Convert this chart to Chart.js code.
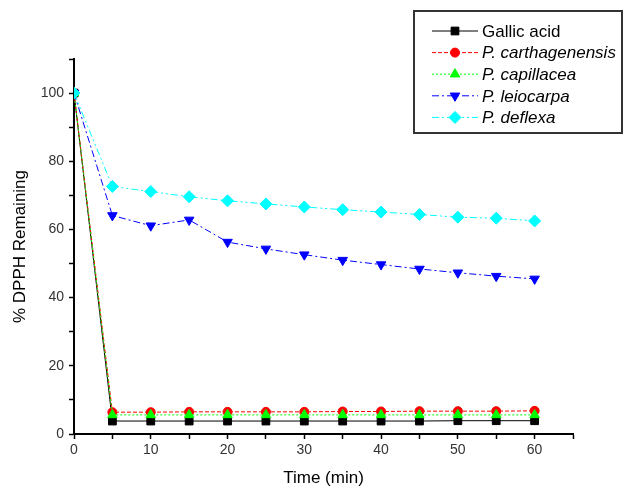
<!DOCTYPE html>
<html>
<head>
<meta charset="utf-8">
<script src="https://cdn.jsdelivr.net/npm/chart.js@4/dist/chart.umd.min.js"></script>
<style>
  html, body { margin: 0; padding: 0; background: #fff; }
  #wrap { width: 628px; height: 490px; position: relative; }
</style>
</head>
<body>
<div id="wrap"><canvas id="dpphChart"></canvas></div>
<script>
const times = [0, 5, 10, 15, 20, 25, 30, 35, 40, 45, 50, 55, 60]
const gallicAcid = [100, 3.8, 3.8, 3.8, 3.8, 3.8, 3.8, 3.8, 3.8, 3.8, 3.9, 3.9, 3.9]
const carthagenensis = [100, 6.4, 6.4, 6.5, 6.5, 6.5, 6.5, 6.6, 6.6, 6.7, 6.7, 6.7, 6.8]
const capillacea = [100, 5.6, 5.6, 5.6, 5.6, 5.6, 5.6, 5.6, 5.6, 5.6, 5.6, 5.6, 5.6]
const leiocarpa = [100, 64.1, 61.1, 62.8, 56.3, 54.3, 52.6, 51.0, 49.7, 48.4, 47.3, 46.3, 45.5]
const deflexa = [100, 72.6, 71.1, 69.6, 68.4, 67.5, 66.6, 65.8, 65.1, 64.4, 63.6, 63.3, 62.5]
const seriesLabels = ['Gallic acid', 'P. carthagenensis', 'P. capillacea', 'P. leiocarpa', 'P. deflexa']
const xTitle = 'Time (min)'
const yTitle = '% DPPH Remaining'

const FONT = 'Arial, "Liberation Sans", sans-serif'

function toPoints(vals) {
  return vals.map((v, i) => ({ x: times[i], y: v }))
}

function makeSet(label, vals, color, dash, style, radius, rotation, order) {
  return {
    label: label,
    data: toPoints(vals),
    borderColor: color,
    backgroundColor: color,
    borderWidth: 1,
    borderDash: dash,
    pointStyle: style,
    pointRadius: radius,
    pointRotation: rotation,
    pointBorderWidth: 1,
    pointBorderColor: color,
    pointBackgroundColor: color,
    tension: 0,
    order: order
  }
}

// boxed legend drawn inside the plot, like the original figure
const boxLegend = {
  id: 'boxLegend',
  afterDraw(chart) {
    const ctx = chart.ctx
    const bx = 414, by = 11, bw = 208, bh = 122
    ctx.save()
    ctx.fillStyle = '#fff'
    ctx.fillRect(bx, by, bw, bh)
    ctx.strokeStyle = '#333'
    ctx.lineWidth = 2
    ctx.strokeRect(bx, by, bw, bh)
    chart.data.datasets.forEach((ds, i) => {
      const y = 31 + i * 21.6
      ctx.save()
      ctx.strokeStyle = ds.borderColor
      ctx.lineWidth = 1
      ctx.setLineDash(ds.borderDash || [])
      ctx.beginPath()
      ctx.moveTo(432, y)
      ctx.lineTo(478, y)
      ctx.stroke()
      ctx.restore()
      ctx.save()
      ctx.fillStyle = ds.pointBackgroundColor
      ctx.strokeStyle = ds.pointBorderColor
      ctx.lineWidth = 1
      Chart.helpers.drawPoint(ctx, {
        pointStyle: ds.pointStyle,
        rotation: ds.pointRotation || 0,
        radius: ds.pointRadius,
        borderWidth: 1
      }, 455, y)
      ctx.restore()
      ctx.fillStyle = '#000'
      ctx.textBaseline = 'middle'
      ctx.textAlign = 'left'
      const italic = ds.label.indexOf('P.') === 0
      ctx.font = (italic ? 'italic ' : '') + '17px ' + FONT
      ctx.fillText(ds.label, 482, y + 1)
    })
    ctx.restore()
  }
}

new Chart(document.getElementById('dpphChart'), {
  type: 'line',
  data: {
    datasets: [
      makeSet(seriesLabels[0], gallicAcid, '#000000', [], 'rect', 5.5, 0, 4),
      makeSet(seriesLabels[1], carthagenensis, '#ff0000', [4, 2], 'circle', 4.5, 0, 3),
      makeSet(seriesLabels[2], capillacea, '#00ff00', [2, 2], 'triangle', 5.5, 0, 2),
      makeSet(seriesLabels[3], leiocarpa, '#0000ff', [7, 3, 2, 3], 'triangle', 5.5, 180, 1),
      makeSet(seriesLabels[4], deflexa, '#00ffff', [7, 3, 2, 3, 2, 3], 'rectRot', 6, 0, 0)
    ]
  },
  options: {
    responsive: true,
    maintainAspectRatio: false,
    animation: false,
    layout: { padding: { left: 0, top: 59, right: 55, bottom: 0 } },
    plugins: {
      legend: { display: false },
      tooltip: { enabled: false }
    },
    scales: {
      x: {
        type: 'linear',
        min: 0,
        max: 65,
        afterFit: s => { s.height = 56 },
        border: { display: true, color: '#000', width: 2 },
        grid: { drawOnChartArea: false, drawTicks: true, tickLength: 5, tickColor: '#000', tickWidth: 1.5 },
        ticks: {
          stepSize: 5,
          autoSkip: false,
          maxRotation: 0,
          padding: 3,
          color: '#333',
          font: { family: FONT, size: 14 },
          callback: v => (v % 10 === 0 ? String(v) : '')
        },
        title: {
          display: true,
          text: xTitle,
          color: '#000',
          font: { family: FONT, size: 17 },
          padding: { top: 0, bottom: 1 }
        }
      },
      y: {
        type: 'linear',
        min: 0,
        max: 110,
        afterFit: s => { s.width = 74 },
        border: { display: true, color: '#000', width: 2 },
        grid: { drawOnChartArea: false, drawTicks: true, tickLength: 5, tickColor: '#000', tickWidth: 1.5 },
        ticks: {
          stepSize: 10,
          autoSkip: false,
          padding: 5,
          color: '#333',
          font: { family: FONT, size: 14 },
          callback: v => (v % 20 === 0 ? String(v) : '')
        },
        title: {
          display: true,
          text: yTitle,
          color: '#000',
          font: { family: FONT, size: 17 },
          padding: { top: 10, bottom: 0 }
        }
      }
    }
  },
  plugins: [boxLegend]
})
</script>
</body>
</html>
